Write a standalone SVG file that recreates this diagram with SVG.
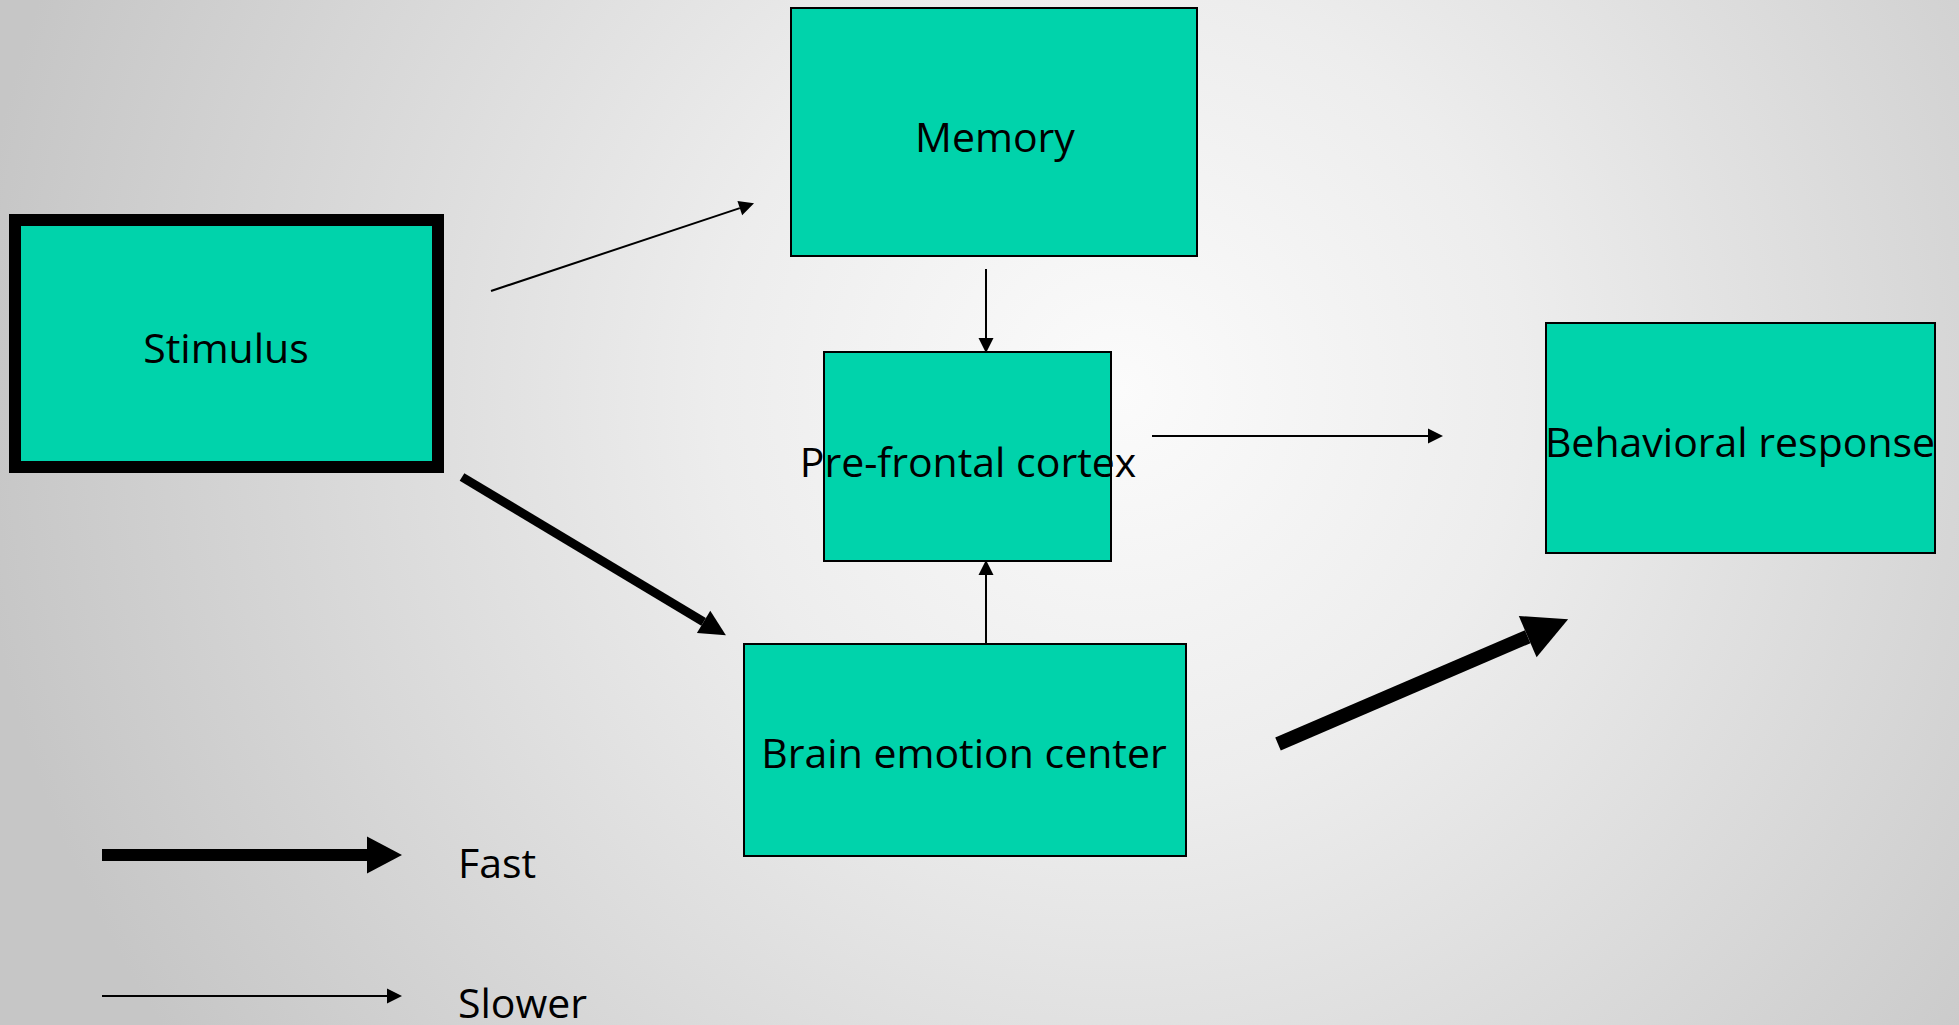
<svg xmlns="http://www.w3.org/2000/svg" width="1959" height="1025" viewBox="0 0 1959 1025">
  <defs>
    <radialGradient id="bg" gradientUnits="userSpaceOnUse" cx="1120" cy="390" r="1150">
      <stop offset="0" stop-color="#fbfbfb"/>
      <stop offset="0.35" stop-color="#ededed"/>
      <stop offset="1" stop-color="#c6c6c6"/>
    </radialGradient>
    <marker id="headThin" markerUnits="userSpaceOnUse" markerWidth="15" markerHeight="15" refX="0" refY="7.5" orient="auto" overflow="visible">
      <path d="M0,0 L15,7.5 L0,15 z" fill="#000"/>
    </marker>
    <marker id="headMid" markerUnits="userSpaceOnUse" markerWidth="26" markerHeight="26" refX="0" refY="13" orient="auto" overflow="visible">
      <path d="M0,0 L26,13 L0,26 z" fill="#000"/>
    </marker>
    <marker id="headBig" markerUnits="userSpaceOnUse" markerWidth="44" markerHeight="45" refX="0" refY="22.5" orient="auto" overflow="visible">
      <path d="M0,0 L44,22.5 L0,45 z" fill="#000"/>
    </marker>
    <marker id="headLegend" markerUnits="userSpaceOnUse" markerWidth="35" markerHeight="37" refX="0" refY="18.5" orient="auto" overflow="visible">
      <path d="M0,0 L35,18.5 L0,37 z" fill="#000"/>
    </marker>
  </defs>
  <style>
    .box { fill: #00d3ab; stroke: #000; stroke-width: 2; }
    .lbl { font-family: "Open Sans", "Noto Sans", "Liberation Sans", sans-serif; font-size: 41px; fill: #000; }
    .mid { text-anchor: middle; }
    .thin { stroke: #000; stroke-width: 2; fill: none; marker-end: url(#headThin); }
  </style>
  <rect x="0" y="0" width="1959" height="1025" fill="url(#bg)"/>

  <g id="connectors">
    <line class="thin" x1="491" y1="291" x2="739.8" y2="208.1"/>
    <line class="thin" x1="986" y1="269" x2="986" y2="338"/>
    <line class="thin" x1="986" y1="644" x2="986" y2="575"/>
    <line class="thin" x1="1152" y1="436" x2="1428" y2="436"/>
    <line x1="462" y1="477" x2="703.6" y2="621.8" stroke="#000" stroke-width="9" marker-end="url(#headMid)"/>
    <line x1="1278" y1="744" x2="1527.7" y2="636.7" stroke="#000" stroke-width="14" marker-end="url(#headBig)"/>
  </g>

  <g id="node-stimulus">
    <rect x="15" y="220" width="423" height="247" fill="#00d3ab" stroke="#000" stroke-width="12"/>
    <text class="lbl mid" x="226" y="363">Stimulus</text>
  </g>
  <g id="node-memory">
    <rect class="box" x="791" y="8" width="406" height="248"/>
    <text class="lbl mid" x="995" y="152">Memory</text>
  </g>
  <g id="node-pfc">
    <rect class="box" x="824" y="352" width="287" height="209"/>
    <text class="lbl mid" x="968" y="477">Pre-frontal cortex</text>
  </g>
  <g id="node-behavioral">
    <rect class="box" x="1546" y="323" width="389" height="230"/>
    <text class="lbl mid" x="1740" y="457">Behavioral response</text>
  </g>
  <g id="node-brain">
    <rect class="box" x="744" y="644" width="442" height="212"/>
    <text class="lbl mid" x="964" y="768">Brain emotion center</text>
  </g>

  <g id="legend">
    <line x1="102" y1="855" x2="367" y2="855" stroke="#000" stroke-width="12" marker-end="url(#headLegend)"/>
    <text class="lbl" x="458" y="878">Fast</text>
    <line class="thin" x1="102" y1="996" x2="387" y2="996"/>
    <text class="lbl" x="458" y="1018">Slower</text>
  </g>
</svg>
